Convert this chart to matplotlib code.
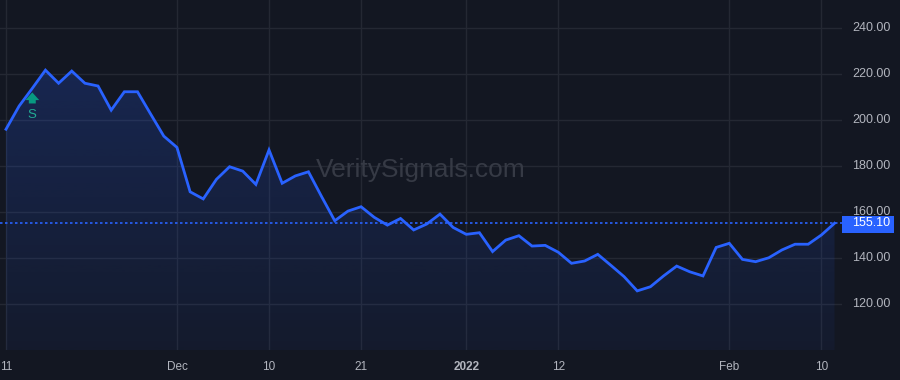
import numpy as np
import pandas as pd
import matplotlib
matplotlib.use('Agg')
import matplotlib.pyplot as plt
from matplotlib.patches import Polygon, Rectangle

plt.rcParams['font.family'] = ['Liberation Sans', 'DejaVu Sans']

# trading days Nov 11 2021 - Feb 11 2022 (US market holidays removed)
holidays = ['2021-11-25', '2021-12-24', '2022-01-17']
dates = pd.bdate_range('2021-11-11', '2022-02-11')
dates = dates[~dates.isin(pd.to_datetime(holidays))]

closes = [196.0, 206.1, 213.8, 221.7, 216.0, 221.3, 216.0, 214.8, 204.3, 212.3,
          212.3, 202.6, 193.0, 188.1, 168.8, 165.7, 174.2, 179.7, 177.8, 172.0,
          187.0, 172.5, 175.7, 177.5, 166.7, 156.2, 160.4, 162.3, 157.7, 154.3,
          157.2, 152.2, 154.8, 159.1, 153.3, 150.3, 151.0, 142.8, 147.8, 149.7,
          145.2, 145.5, 142.5, 137.7, 138.7, 141.6, 136.8, 131.9, 125.7, 127.5,
          132.2, 136.5, 134.0, 132.2, 144.6, 146.4, 139.4, 138.4, 140.1, 143.5,
          146.0, 146.0, 150.0, 155.1]

tick_dates = ['2021-11-11', '2021-12-01', '2021-12-10', '2021-12-21',
              '2022-01-03', '2022-01-12', '2022-02-01', '2022-02-10']
tick_labels = ['11', 'Dec', '10', '21', '2022', '12', 'Feb', '10']
price_ticks = [120, 140, 160, 180, 200, 220, 240]
signal_day = '2021-11-15'
last_price = 155.10

bg = '#131722'
grid_c = '#242833'
line_c = '#2962ff'
text_c = '#b2b5be'

fig = plt.figure(figsize=(9, 3.8), dpi=100, facecolor=bg)
ax = fig.add_axes([0, 30 / 380, 842 / 900, 350 / 380])
ax.set_facecolor(bg)

x = np.arange(len(closes))
ymin, ymax = 100.0, 252.2
ax.set_xlim(-0.456, 63.57)
ax.set_ylim(ymin, ymax)

# gradient fill under the line
grad = np.linspace(0.05, 0.25, 256).reshape(-1, 1)
rgba = np.zeros((256, 1, 4))
rgba[..., 0], rgba[..., 1], rgba[..., 2] = 41 / 255, 98 / 255, 1.0
rgba[..., 3] = grad
im = ax.imshow(rgba, extent=[x[0], x[-1], ymin, ymax], origin='lower',
               aspect='auto', zorder=1)
verts = [(x[0], ymin)] + list(zip(x, closes)) + [(x[-1], ymin)]
poly = Polygon(verts, closed=True, facecolor='none', edgecolor='none')
ax.add_patch(poly)
im.set_clip_path(poly)

ax.plot(x, closes, color=line_c, lw=2, zorder=3, solid_joinstyle='miter')

# grid
pos = dict(zip(dates.strftime('%Y-%m-%d'), x))
tick_pos = [pos[d] for d in tick_dates]
for t in tick_pos:
    ax.axvline(t, color=grid_c, lw=1, zorder=0)
for p in price_ticks:
    ax.axhline(p, color=grid_c, lw=1, zorder=0)

# last price line
ax.axhline(last_price, color=line_c, lw=1.2, ls=(0, (1.5, 1.5)), zorder=2)

# watermark
ax.text(0.5, 0.515, 'VeritySignals.com', transform=ax.transAxes,
        ha='center', va='center', fontsize=19, color='#363a45', zorder=1)

# signal marker
sx = pos[signal_day]
ax.annotate('', xy=(sx, 212.0), xytext=(sx, 207.2),
            arrowprops=dict(arrowstyle='simple,head_width=1.0,head_length=0.55,tail_width=0.5',
                            color='#089981', lw=0, shrinkA=0, shrinkB=0,
                            mutation_scale=10), zorder=4)
ax.text(sx, 202.4, 'S', ha='center', va='center', fontsize=9.5,
        color='#22ab94', zorder=4)

ax.set_xticks([])
ax.set_yticks([])
for s in ax.spines.values():
    s.set_visible(False)

# time axis labels
for t, lab in zip(tick_pos, tick_labels):
    ax.text(t, -0.05, lab, transform=ax.get_xaxis_transform(), ha='center',
            va='center', fontsize=8.5, color=text_c,
            fontweight='bold' if lab == '2022' else 'normal')

# price axis labels
for p in price_ticks:
    ax.text(1.012, p, f'{p:.2f}', transform=ax.get_yaxis_transform(),
            ha='left', va='center', fontsize=9, color=text_c, clip_on=False)

# last price tag
tr = ax.get_yaxis_transform()
tag = Rectangle((1.0, last_price - 4.2), 52 / 842, 7.4,
                transform=tr, fc=line_c, ec='none', clip_on=False, zorder=5)
ax.add_patch(tag)
ax.text(1.012, last_price, f'{last_price:.2f}', transform=tr,
        ha='left', va='center', fontsize=9, color='white', clip_on=False,
        zorder=6)

fig.savefig('out.png', dpi=100, facecolor=bg)
